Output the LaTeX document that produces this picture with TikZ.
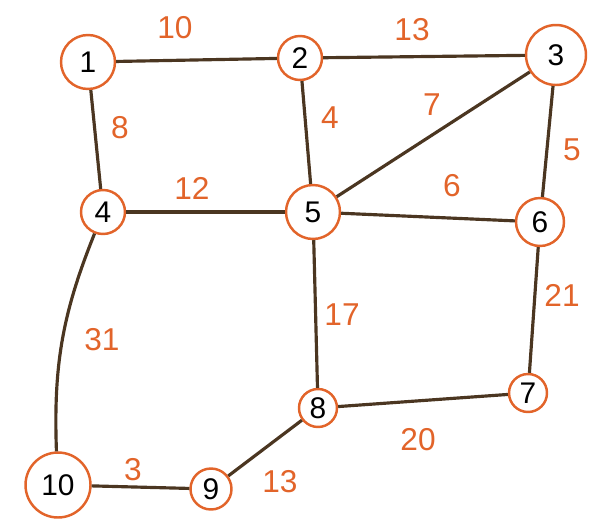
\documentclass[tikz,border=0pt]{standalone}
\usepackage{fontspec}
\setmainfont{Liberation Sans}
\definecolor{vorange}{HTML}{E2642A}
\definecolor{vbrown}{HTML}{4B3621}
\tikzset{
  vert/.style={circle, draw=vorange, line width=1.4pt, fill=white, inner sep=0pt,
               minimum size=0.9cm, font=\fontsize{17}{19}\selectfont},
  wt/.style={text=vorange, inner sep=1pt, font=\fontsize{18}{20}\selectfont},
  link/.style={draw=vbrown, line width=1.8pt}
}
\begin{document}
\begin{tikzpicture}[x=0.02cm, y=-0.02cm]
  \useasboundingbox (0,0) rectangle (601,524);
  % vertices
  \node[vert, minimum size=1.08cm] (v1) at (88,62) {1};
  \node[vert, minimum size=0.88cm] (v2) at (300,58) {2};
  \node[vert, minimum size=1.2cm] (v3) at (556,55) {3};
  \node[vert, minimum size=0.88cm] (v4) at (103,212) {4};
  \node[vert, minimum size=1.08cm] (v5) at (313,212) {5};
  \node[vert, minimum size=0.96cm] (v6) at (540,222) {6};
  \node[vert, minimum size=0.76cm] (v7) at (528,393) {7};
  \node[vert, minimum size=0.76cm] (v8) at (318,408) {8};
  \node[vert, minimum size=0.82cm] (v9) at (211,489) {9};
  \node[vert, minimum size=1.3cm] (v10) at (58,485) {10};
  % edges
  \draw[link] (v1) -- (v2);
  \draw[link] (v2) -- (v3);
  \draw[link] (v1) -- (v4);
  \draw[link] (v2) -- (v5);
  \draw[link] (v3) -- (v5);
  \draw[link] (v3) -- (v6);
  \draw[link] (v4) -- (v5);
  \draw[link] (v5) -- (v6);
  \draw[link] (v4) to[bend right=12] (v10);
  \draw[link] (v5) -- (v8);
  \draw[link] (v6) -- (v7);
  \draw[link] (v8) -- (v7);
  \draw[link] (v8) -- (v9);
  \draw[link] (v10) -- (v9);
  % weights
  \node[wt] (w12) at (175,28) {10};
  \node[wt] (w23) at (412,30) {13};
  \node[wt] (w14) at (120,128) {8};
  \node[wt] (w25) at (330,118) {4};
  \node[wt] (w35) at (432,105) {7};
  \node[wt] (w36) at (572,150) {5};
  \node[wt] (w45) at (192,188) {12};
  \node[wt] (w56) at (452,186) {6};
  \node[wt] (w410) at (102,340) {31};
  \node[wt] (w58) at (342,315) {17};
  \node[wt] (w67) at (562,295) {21};
  \node[wt] (w87) at (418,440) {20};
  \node[wt] (w89) at (280,482) {13};
  \node[wt] (w109) at (133,470) {3};
\end{tikzpicture}
\end{document}
